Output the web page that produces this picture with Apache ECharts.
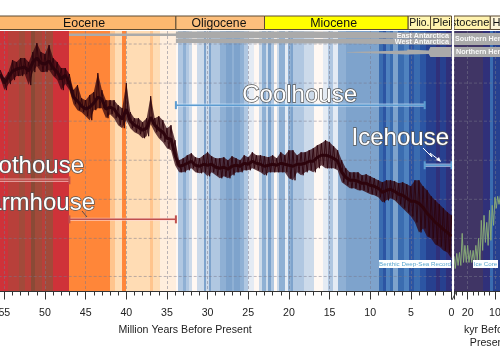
<!DOCTYPE html>
<html>
<head>
<meta charset="utf-8">
<style>
html, body { margin: 0; padding: 0; background: #fff; }
#main { width: 500px; height: 350px; }
</style>
<script src="https://cdn.jsdelivr.net/npm/echarts@6/dist/echarts.min.js"></script>
</head>
<body>
<div id="main"></div>
<script>
// the reference shows no y labels, so y values are read in plot-height units: 0 = top, 260 = bottom
const stripeEdges = [60, 54.55, 53.2, 52.46, 51.72, 51.23, 50.37, 50, 49.02, 47.05, 46.66, 42, 41.39, 40.53, 40.04, 37.08, 36.72, 35.86, 35.24, 33.89, 33.64, 33.03, 32.66, 32.29, 31.92, 31.3, 30.44, 30.2, 29.83, 29.58, 28.47, 27.74, 27, 26.75, 26.01, 25.52, 25.03, 24.29, 23.68, 23.31, 22.82, 22.57, 22.2, 21.83, 21.46, 21.22, 20.48, 20.11, 19.74, 19.5, 19, 18.14, 16.91, 15.81, 15.19, 14.58, 13.96, 12.98, 8.92, 8.43, 8.06, 7.56, 7.2, 6.58, 5.84, 5.23, 4.61, 3.87, 3.14, 2.64, 1.91, 1.41, 0.68, 0];
const stripeLevels = [3, 2, 1, 2, 0, 1, 2, 1, 3, 4, 4, 6, 7, 4, 7, 6, 7, 8, 8, 9, 12, 13, 12, 11, 9, 11, 14, 11, 14, 12, 13, 14, 13, 14, 13, 12, 10, 9, 11, 13, 11, 14, 12, 9, 11, 13, 10, 13, 14, 12, 12, 11, 9, 10, 12, 10, 13, 14, 16, 17, 15, 16, 14, 16, 15, 17, 16, 17, 18, 18, 19, 18, 19];
const kyrStripeEdges = [25, 14.4, 11.83, 10.73, 0];
const kyrStripeLevels = [20, 19, 16, 18];

const curveStartAge = 55.5;
const curveStep = 0.5;
const curveHigh = [39, 47, 41, 29, 31, 27, 27, 31, 21, 12, 21, 23, 14, 27, 31, 37, 37, 43, 59, 54, 67, 69, 64, 61, 42, 59, 69, 69, 69, 74, 77, 52, 81, 87, 87, 91, 87, 65, 87, 85, 89, 97, 94, 109, 129, 127, 124, 122, 126, 127, 124, 121, 125, 127, 127, 126, 129, 125, 127, 129, 124, 126, 121, 124, 124, 125, 126, 124, 127, 121, 124, 119, 119, 124, 121, 121, 119, 117, 114, 112, 109, 111, 115, 119, 129, 137, 141, 141, 141, 144, 143, 145, 147, 149, 151, 149, 149, 150, 152, 151, 153, 155, 149, 149, 155, 159, 165, 169, 173, 177, 181, 184];
const curveLow = [47, 59, 53, 49, 45, 45, 43, 54, 41, 35, 41, 41, 39, 45, 49, 59, 53, 59, 73, 79, 81, 85, 89, 79, 77, 77, 87, 83, 87, 94, 97, 89, 97, 101, 103, 107, 105, 93, 101, 107, 111, 117, 119, 134, 141, 141, 139, 137, 141, 142, 141, 145, 141, 144, 147, 145, 147, 144, 141, 141, 139, 139, 137, 139, 141, 144, 141, 141, 141, 141, 141, 147, 149, 141, 144, 141, 139, 141, 137, 134, 137, 137, 137, 139, 151, 154, 157, 157, 159, 159, 161, 163, 164, 166, 171, 169, 167, 169, 173, 177, 181, 185, 191, 201, 197, 205, 207, 213, 215, 219, 221, 227];
const curveMid = [43, 52, 46, 40, 38, 37, 36, 40, 31, 27, 32, 33, 30, 37, 41, 48, 44, 52, 66, 70, 75, 78, 76, 72, 66, 68, 78, 76, 78, 84, 88, 78, 90, 94, 96, 99, 97, 86, 94, 98, 101, 107, 108, 124, 135, 134, 132, 130, 134, 135, 133, 134, 133, 136, 137, 136, 138, 135, 134, 135, 132, 133, 130, 132, 133, 135, 134, 133, 134, 132, 133, 134, 135, 133, 133, 132, 130, 130, 126, 124, 124, 125, 127, 130, 141, 146, 149, 149, 150, 152, 152, 154, 155, 157, 161, 159, 158, 160, 163, 164, 167, 170, 170, 172, 176, 182, 186, 191, 194, 198, 201, 205];

const iceCoreKyr = [25, 24, 23, 22, 21, 20, 19, 18, 17, 16, 15, 14, 13, 12, 11, 10, 9, 8];
const iceCoreHigh = [225, 222, 221, 202, 214, 214, 219, 219, 214, 207, 189, 184, 191, 179, 174, 166, 165, 164];
const iceCoreLow = [237, 234, 234, 231, 231, 231, 231, 231, 229, 231, 219, 211, 214, 209, 194, 177, 173, 169];

const gridValues = [13, 52, 90, 129, 168, 207, 245];

const eastAges = [47.05, 33.9, 33.89, 16.9, 0];
const eastTop = [2.5, 2.5, 0.5, 0.5, 2];
const eastBottom = [5, 5, 7, 7, 8];
const westAges = [33.9, 12.9, 0];
const westTop = [7.5, 8, 8];
const westBottom = [12, 12.5, 14];
const northAges = [12.86, 5.47, 5.4, 2.8, 2.6, 0];
const northTop = [21, 19.5, 18.5, 19.5, 16, 16];
const northBottom = [21.5, 23.5, 23.5, 23, 26, 26];
const southKyr = [25, 0];
const southTop = [2, 2];
const southBottom = [14, 14];
const northKyr = [25, 0];
const northKyrTop = [16, 16];
const northKyrBottom = [26, 26];

const epochEdges = [60, 33.9, 23, 5.33, 2.58];
const kyrEpochEdges = [25, 11.7, 0];
const pleistoceneLeft = [2.58, 0];
const epochLabelAges = [45.2, 28.6, 14.5, 3.95, -1.15, -7.9];
const epochLabels = ['Eocene', 'Oligocene', 'Miocene', 'Plio.', 'Pleistocene', 'Holocene'];

const rangeNames = ['Hothouse', 'Warmhouse', 'Coolhouse', 'Icehouse'];
const rangeStart = [60, 47, 33.9, 3.3];
const rangeEnd = [47, 33.9, 3.3, 0];
const rangeY = [149, 188, 74, 134];

const palette = ['#8a4a36', '#a24a3a', '#b8403a', '#cf3239', '#ff8639', '#ffa45f', '#ffc48d', '#ffdcb4', '#ffeedd', '#fff8f3', '#e4ebf4', '#ccdaea', '#b0c7e1', '#8fb0d4', '#7ea3cc', '#4f82bf', '#3a6cb0', '#2c55a3', '#27408f', '#30307a', '#403565'];
const epochColors = ['#fdb86f', '#fdbf7c', '#ffff00', '#fff6b0'];
const labelSizes = [12.4, 12.2, 12.4, 10.4, 11, 11];
const rangeColors = ['#c0504d', '#c0504d', '#5b9bd0', '#5b9bd0'];
const rangeHalos = ['rgba(255,215,215,0.6)', 'rgba(255,215,215,0.6)', 'rgba(215,235,255,0.6)', 'rgba(215,235,255,0.6)'];

function stripeSeries(edges, levels, axisIndex) {
    return {
        type: 'custom', xAxisIndex: axisIndex, yAxisIndex: axisIndex, z: 1, silent: true,
        data: levels.map((l, i) => [edges[i], edges[i + 1], l]),
        renderItem: function (params, api) {
            let a = api.coord([api.value(0), 0]);
            let b = api.coord([api.value(1), 260]);
            let x0 = Math.round(a[0]), x1 = Math.round(b[0]);
            return {
                type: 'rect',
                shape: { x: x0, y: a[1], width: x1 - x0, height: b[1] - a[1] },
                style: { fill: palette[api.value(2)] }
            };
        }
    };
}

function gridLineSeries(axisIndex, left, right) {
    return {
        type: 'custom', xAxisIndex: axisIndex, yAxisIndex: axisIndex, z: 2, silent: true,
        data: gridValues.map(v => [v]),
        renderItem: function (params, api) {
            let a = api.coord([left, api.value(0)]);
            let b = api.coord([right, api.value(0)]);
            return {
                type: 'line',
                shape: { x1: a[0], y1: a[1], x2: b[0], y2: b[1] },
                style: { stroke: 'rgba(120,120,140,0.5)', lineWidth: 1, lineDash: [3, 2] }
            };
        }
    };
}

function bandSeries(ages, tops, bottoms, axisIndex, fill) {
    return {
        type: 'custom', xAxisIndex: axisIndex, yAxisIndex: axisIndex, z: 4, silent: true,
        data: [[0]],
        renderItem: function (params, api) {
            let pts = [];
            ages.forEach((a, i) => pts.push(api.coord([a, tops[i]])));
            for (let i = ages.length - 1; i >= 0; i--) {
                pts.push(api.coord([ages[i], bottoms[i]]));
            }
            return { type: 'polygon', shape: { points: pts }, style: { fill: fill } };
        }
    };
}

function epochSeries(edges, colors, axisIndex) {
    return {
        type: 'custom', xAxisIndex: axisIndex, yAxisIndex: axisIndex, z: 1, silent: true,
        data: colors.map((c, i) => [edges[i], edges[i + 1], i]),
        renderItem: function (params, api) {
            let a = api.coord([api.value(0), 0]);
            let b = api.coord([api.value(1), 1]);
            return {
                type: 'rect',
                shape: { x: a[0], y: a[1], width: b[0] - a[0], height: b[1] - a[1] },
                style: { fill: colors[api.value(2)], stroke: '#5c4a32', lineWidth: 1 }
            };
        }
    };
}

function zigzag(xs, highs, lows, step) {
    let pts = [];
    for (let i = 0; i < xs.length; i++) {
        pts.push([xs[i], highs[i]]);
        pts.push([xs[i] - step / 2, lows[i]]);
    }
    return pts;
}

const curveAges = curveHigh.map((v, i) => curveStartAge - i * curveStep);

const series = [
    stripeSeries(stripeEdges, stripeLevels, 0),
    stripeSeries(kyrStripeEdges, kyrStripeLevels, 1),
    gridLineSeries(0, 60, 0),
    gridLineSeries(1, 25, 0),
    bandSeries(eastAges, eastTop, eastBottom, 0, '#aaaaaa'),
    bandSeries(westAges, westTop, westBottom, 0, '#aaaaaa'),
    bandSeries(northAges, northTop, northBottom, 0, '#aaaaaa'),
    bandSeries(southKyr, southTop, southBottom, 1, '#aaaaaa'),
    bandSeries(northKyr, northKyrTop, northKyrBottom, 1, '#aaaaaa'),
    bandSeries(curveAges, curveHigh, curveLow, 0, 'rgba(51,6,15,0.75)'),
    {
        type: 'line', xAxisIndex: 0, yAxisIndex: 0, z: 5, silent: true,
        showSymbol: false, symbol: 'none',
        lineStyle: { color: '#2e050d', width: 3 },
        data: curveAges.map((a, i) => [a, curveMid[i]])
    },
    {
        type: 'line', xAxisIndex: 0, yAxisIndex: 0, z: 5, silent: true,
        showSymbol: false, symbol: 'none',
        lineStyle: { color: '#2e050d', width: 0.9 },
        data: zigzag(curveAges, curveHigh, curveLow, curveStep)
    },
    {
        type: 'line', xAxisIndex: 1, yAxisIndex: 1, z: 5, silent: true,
        showSymbol: false, symbol: 'none',
        lineStyle: { color: '#86a877', width: 1 },
        data: zigzag(iceCoreKyr, iceCoreHigh, iceCoreLow, 1)
    },
    epochSeries(epochEdges, epochColors, 2),
    epochSeries(kyrEpochEdges, ['#fff2ae', '#fff6d8'], 3),
    epochSeries(pleistoceneLeft, ['#fff2ae'], 2),
    {
        type: 'custom', xAxisIndex: 2, yAxisIndex: 2, z: 3, silent: true,
        data: epochLabels.map((n, i) => [epochLabelAges[i], i]),
        renderItem: function (params, api) {
            let p = api.coord([api.value(0), 0.5]);
            let i = api.value(1);
            return {
                type: 'text',
                style: {
                    x: p[0], y: p[1] + 0.5, text: epochLabels[i], fill: '#111',
                    align: 'center', verticalAlign: 'middle',
                    font: labelSizes[i] + 'px "Liberation Sans"'
                }
            };
        }
    }
];

rangeNames.forEach((n, i) => {
    series.push({
        type: 'line', xAxisIndex: 0, yAxisIndex: 0, z: 6, silent: true,
        symbol: 'none',
        lineStyle: { color: rangeHalos[i], width: 3.4 },
        data: [[rangeStart[i], rangeY[i]], [rangeEnd[i], rangeY[i]]]
    });
    series.push({
        type: 'line', xAxisIndex: 0, yAxisIndex: 0, z: 6, silent: true, name: n,
        symbol: 'rect', symbolSize: [2, 8],
        itemStyle: { color: rangeColors[i] },
        lineStyle: { color: rangeColors[i], width: 1.5 },
        data: [[rangeStart[i], rangeY[i]], [rangeEnd[i], rangeY[i]]]
    });
});

function bigText(text, x, y, align) {
    return {
        type: 'text', z: 20, silent: true,
        style: {
            x: x, y: y, text: text, align: align, verticalAlign: 'middle',
            font: '24px "Liberation Sans"', fill: '#ffffff', stroke: '#555555', lineWidth: 1.4
        }
    };
}

function sheetText(text, x, y, align) {
    return {
        type: 'text', z: 20, silent: true,
        style: {
            x: x, y: y, text: text, align: align, verticalAlign: 'middle',
            font: 'bold 7.2px "Liberation Sans"', fill: 'rgba(255,255,255,0.92)'
        }
    };
}

function tag(text, x, y, width, color) {
    return {
        type: 'group', z: 20, silent: true,
        children: [
            { type: 'rect', shape: { x: x, y: y, width: width, height: 8 }, style: { fill: '#ffffff' }, z: 20 },
            {
                type: 'text', z: 21,
                style: {
                    x: x + width / 2, y: y + 4.5, text: text, align: 'center', verticalAlign: 'middle',
                    font: '6.2px "Liberation Sans"', fill: color
                }
            }
        ]
    };
}

const graphic = [
    { type: 'rect', z: 19, silent: true, shape: { x: 452, y: 15, width: 2, height: 277 }, style: { fill: '#ffffff' } },
    { type: 'line', z: 19, silent: true, shape: { x1: 452, y1: 300, x2: 456, y2: 292 }, style: { stroke: '#333', lineWidth: 1 } },
    bigText('Hothouse', 84, 166, 'right'),
    bigText('Warmhouse', 95, 203, 'right'),
    bigText('Coolhouse', 357, 95, 'right'),
    bigText('Icehouse', 449, 138, 'right'),
    sheetText('East Antarctica', 449, 36, 'right'),
    sheetText('West Antarctica', 449, 42, 'right'),
    sheetText('Southern Hemisphere', 455, 39, 'left'),
    sheetText('Northern Hemisphere', 456, 52, 'left'),
    tag('Benthic Deep-Sea Record', 379, 260, 72, '#5aa7cf'),
    tag('Ice Core', 473, 260, 25, '#5aa7cf'),
    {
        type: 'polyline', z: 20, silent: true,
        shape: { points: [[423, 148], [432, 157], [430, 153], [439, 160]] },
        style: { stroke: '#ffffff', lineWidth: 1, fill: null }
    },
    {
        type: 'polygon', z: 20, silent: true,
        shape: { points: [[441, 162], [436, 160], [439, 157]] },
        style: { fill: '#ffffff' }
    },
    {
        type: 'line', z: 20, silent: true,
        shape: { x1: 82, y1: 211, x2: 87, y2: 217 },
        style: { stroke: '#5a4a4a', lineWidth: 1 }
    }
];

const axisText = { color: '#222', fontFamily: 'Liberation Sans', fontSize: 10.6, margin: 16 };
const nameText = { color: '#222', fontFamily: 'Liberation Sans', fontSize: 10.6, lineHeight: 13 };
const dashLine = { show: true, lineStyle: { color: 'rgba(120,120,140,0.5)', type: [3, 2], width: 1 } };

var myChart = echarts.init(document.getElementById('main'), null, { renderer: 'canvas' });
var option = {
    animation: false,
    backgroundColor: '#ffffff',
    grid: [
        { left: -36.3, top: 31, width: 487.8, height: 260.5, outerBoundsMode: 'none' },
        { left: 454, top: 31, width: 68.25, height: 260.5, outerBoundsMode: 'none' },
        { left: -36.3, top: 16, width: 487.8, height: 13.5, outerBoundsMode: 'none' },
        { left: 454, top: 16, width: 68.25, height: 13.5, outerBoundsMode: 'none' }
    ],
    xAxis: [
        {
            type: 'value', gridIndex: 0, min: 0, max: 60, interval: 5, inverse: true, z: 3,
            name: 'Million Years Before Present', nameLocation: 'middle', nameGap: 26,
            nameTextStyle: Object.assign({ padding: [0, 45, 0, 0] }, nameText),
            axisLine: { onZero: false, lineStyle: { color: '#333', width: 1 } },
            axisTick: { length: 8, inside: false, lineStyle: { color: '#333' } },
            minorTick: { show: true, splitNumber: 5, length: 4, lineStyle: { color: '#333' } },
            axisLabel: Object.assign({ showMaxLabel: false }, axisText),
            splitLine: dashLine
        },
        {
            type: 'value', gridIndex: 1, min: 0, max: 25, interval: 10, inverse: true, z: 3,
            name: 'kyr Before\nPresent', nameLocation: 'middle', nameGap: 26,
            nameTextStyle: nameText,
            axisLine: { onZero: false, lineStyle: { color: '#333', width: 1 } },
            axisTick: { length: 8, lineStyle: { color: '#333' } },
            minorTick: { show: true, splitNumber: 5, length: 4, lineStyle: { color: '#333' } },
            axisLabel: Object.assign({ showMaxLabel: false }, axisText),
            splitLine: dashLine
        },
        { type: 'value', gridIndex: 2, min: 0, max: 60, inverse: true, show: false },
        { type: 'value', gridIndex: 3, min: 0, max: 25, inverse: true, show: false }
    ],
    yAxis: [
        { type: 'value', gridIndex: 0, min: 0, max: 260, inverse: true, show: false },
        { type: 'value', gridIndex: 1, min: 0, max: 260, inverse: true, show: false },
        { type: 'value', gridIndex: 2, min: 0, max: 1, show: false },
        { type: 'value', gridIndex: 3, min: 0, max: 1, show: false }
    ],
    series: series,
    graphic: graphic
};
myChart.setOption(option);
</script>
</body>
</html>
